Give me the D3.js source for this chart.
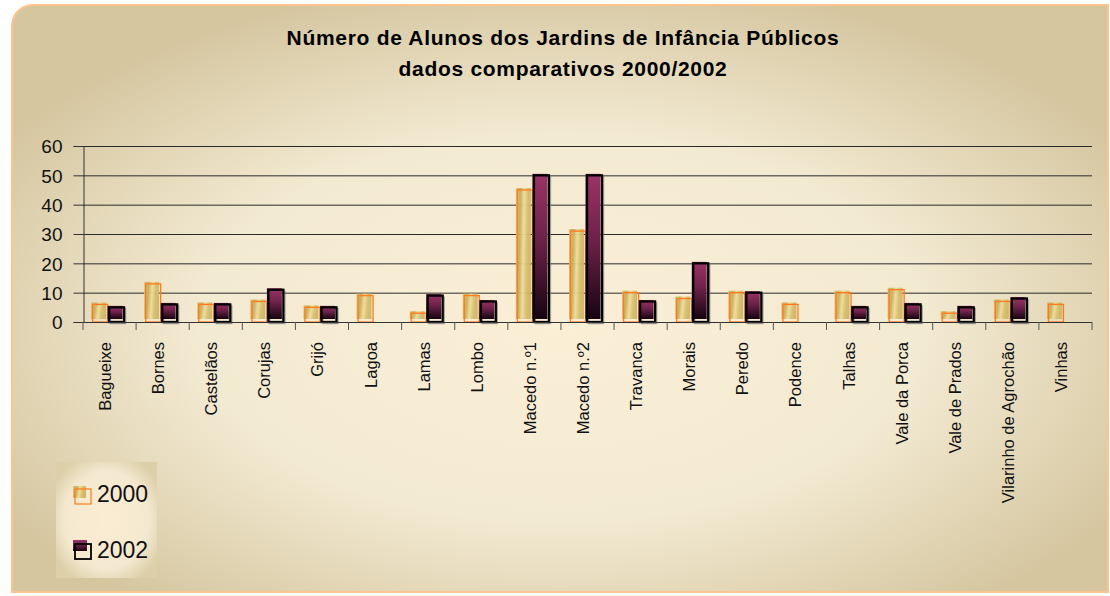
<!DOCTYPE html>
<html><head><meta charset="utf-8">
<script src="https://cdn.jsdelivr.net/npm/d3@7"></script>
<style>body{margin:0;background:#fff;}svg{display:block;font-family:"Liberation Sans",Arial,sans-serif;}</style>
</head><body><svg id="c" width="1110" height="596"></svg>
<script>
const categories = ["Bagueixe","Bornes","Castelãos","Corujas","Grijó","Lagoa","Lamas","Lombo","Macedo n.º1","Macedo n.º2","Travanca","Morais","Peredo","Podence","Talhas","Vale da Porca","Vale de Prados","Vilarinho de Agrochão","Vinhas"];
const values2000 = [6,13,6,7,5,9,3,9,45,31,10,8,10,6,10,11,3,7,6];
const values2002 = [5,6,6,11,5,null,9,7,50,50,7,20,10,null,5,6,5,8,null];
const seriesNames = ["2000","2002"];
const yTicks = [0,10,20,30,40,50,60];
const titleLines = ["Número de Alunos dos Jardins de Infância Públicos","dados comparativos 2000/2002"];

const FF = "Liberation Sans, Arial, sans-serif";
const svg = d3.select("#c");
const defs = svg.append("defs");
const bg = defs.append("radialGradient").attr("id","bg").attr("cx","0.5").attr("cy","0.55").attr("r","0.6");
bg.append("stop").attr("offset","0").attr("stop-color","#fbefd6");
bg.append("stop").attr("offset","0.55").attr("stop-color","#f3ead2");
bg.append("stop").attr("offset","1").attr("stop-color","#d5c6a0");
const gold = defs.append("linearGradient").attr("id","gold").attr("x1","0").attr("y1","0").attr("x2","1").attr("y2","0.15");
[["0","#d9c27a"],["0.3","#c9ad5a"],["0.55","#eedc9c"],["0.8","#d6bd6c"],["1","#cfb564"]].forEach(s=>gold.append("stop").attr("offset",s[0]).attr("stop-color",s[1]));
const plum = defs.append("linearGradient").attr("id","plum").attr("x1","0").attr("y1","0").attr("x2","0").attr("y2","1");
[["0","#9c3368"],["0.45","#6e2249"],["1","#160410"]].forEach(s=>plum.append("stop").attr("offset",s[0]).attr("stop-color",s[1]));
const lg = defs.append("radialGradient").attr("id","lg").attr("cx","0.5").attr("cy","0.5").attr("r","0.6");
lg.append("stop").attr("offset","0").attr("stop-color","#fbecd2");
lg.append("stop").attr("offset","0.7").attr("stop-color","#f4e9d0");
lg.append("stop").attr("offset","1").attr("stop-color","#dccfaa");

svg.append("path")
  .attr("d","M12,25 Q14,7 32,5 L1108,5 L1108,592 L12,592 Z")
  .attr("fill","url(#bg)").attr("stroke","#fcc590").attr("stroke-width",2);

// title
svg.append("g").selectAll("text").data(titleLines).join("text")
  .attr("x",563).attr("y",(d,i)=>45+i*31).attr("text-anchor","middle")
  .attr("font-family",FF).attr("font-weight","bold").attr("font-size","21px").attr("letter-spacing","0.7px")
  .attr("fill","#000").text(d=>d);

const L=83, R=1092, T=146, B=322;
const x = d3.scaleBand().domain(categories).range([L,R]);
const y = d3.scaleLinear().domain([0,60]).range([B,T]);

// gridlines
svg.append("g").selectAll("line").data(yTicks.filter(d=>d>0)).join("line")
  .attr("x1",L).attr("x2",R).attr("y1",d=>y(d)+0.5).attr("y2",d=>y(d)+0.5)
  .attr("stroke","#2a2a2a").attr("stroke-width",1);

// y axis
const ya = svg.append("g").attr("transform",`translate(${L+0.5},0)`)
  .call(d3.axisLeft(y).tickValues(yTicks).tickSize(10).tickPadding(11));
ya.select(".domain").attr("stroke","#333");
ya.selectAll(".tick line").attr("stroke","#333");
ya.selectAll("text").attr("font-size","19px").attr("fill","#111").attr("font-family",FF).attr("dy","0.36em");

// bars
const bw = 15;
const off = [-17,-0.5];
const data = categories.map((c,i)=>({c, v:[values2000[i],values2002[i]]}));
const gBars = svg.append("g");
data.forEach(d=>{
  const cx = x(d.c)+x.bandwidth()/2;
  d.v.forEach((v,s)=>{
    if(v==null) return;
    const x0 = cx+off[s];
    if(s===0){
      gBars.append("rect").attr("x",x0-1.5).attr("y",y(v)-2).attr("width",bw).attr("height",y(0)-y(v)-1)
        .attr("fill","url(#gold)").attr("opacity",0.95);
      gBars.append("rect").attr("x",x0).attr("y",y(v)).attr("width",bw).attr("height",y(0)-y(v))
        .attr("fill","none").attr("stroke","#ff7a1a").attr("stroke-width",1.3);
    } else {
      gBars.append("rect").attr("x",x0+1.5).attr("y",y(v)+1.5).attr("width",bw).attr("height",y(0)-y(v))
        .attr("fill","none").attr("stroke","#777").attr("stroke-width",1.5).attr("opacity",0.6);
      gBars.append("rect").attr("x",x0-1.5).attr("y",y(v)-1.5).attr("width",bw).attr("height",y(0)-y(v)-1.5)
        .attr("fill","url(#plum)");
      gBars.append("rect").attr("x",x0).attr("y",y(v)).attr("width",bw).attr("height",y(0)-y(v))
        .attr("fill","none").attr("stroke","#000").attr("stroke-width",2.3);
    }
  });
});

// x axis
svg.append("line").attr("x1",L).attr("x2",R).attr("y1",B+0.5).attr("y2",B+0.5).attr("stroke","#333");
svg.append("g").selectAll("line").data(categories.concat(["__end"])).join("line")
  .attr("x1",d=>d==="__end"?R:x(d)).attr("x2",d=>d==="__end"?R:x(d))
  .attr("y1",B).attr("y2",B+8).attr("stroke","#555").attr("stroke-width",1);
svg.append("g").selectAll("text").data(categories).join("text")
  .attr("transform",d=>`translate(${x(d)+x.bandwidth()/2+1.5},342) rotate(-90)`)
  .attr("text-anchor","end").attr("font-family",FF).attr("font-size","16.5px").attr("fill","#111").text(d=>d);

// legend
svg.append("rect").attr("x",56).attr("y",462).attr("width",101).attr("height",116).attr("fill","url(#lg)");
const lgItems = seriesNames.map((n,i)=>({n,i}));
const lgG = svg.append("g");
lgItems.forEach(d=>{
  const yy = d.i===0?486:541;
  if(d.i===0){
    lgG.append("rect").attr("x",73).attr("y",yy).attr("width",13).attr("height",12).attr("fill","url(#gold)");
    lgG.append("rect").attr("x",75).attr("y",yy+3).attr("width",16).attr("height",15).attr("fill","none").attr("stroke","#ff7a1a").attr("stroke-width",1.2);
  } else {
    lgG.append("rect").attr("x",73).attr("y",yy-1).attr("width",14).attr("height",11).attr("fill","url(#plum)");
    lgG.append("rect").attr("x",75).attr("y",yy+3).attr("width",16).attr("height",15).attr("fill","none").attr("stroke","#000").attr("stroke-width",1.8);
  }
  lgG.append("text").attr("x",97).attr("y",d.i===0?502:558).attr("font-family",FF).attr("font-size","23px").attr("fill","#111").text(d.n);
});
</script></body></html>
